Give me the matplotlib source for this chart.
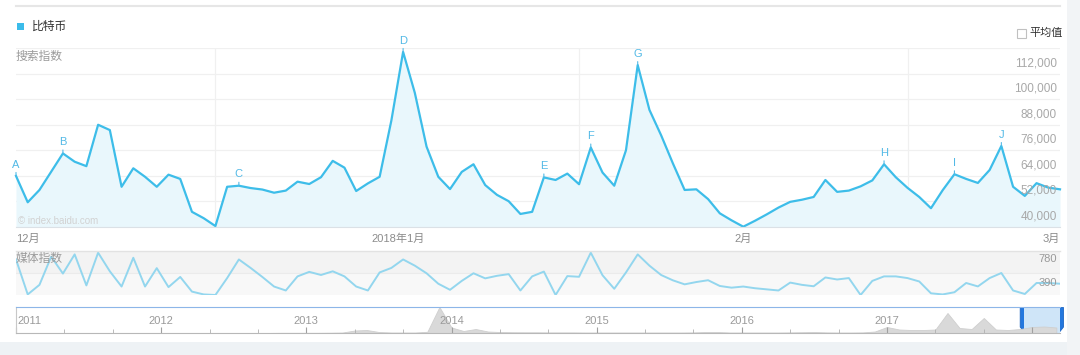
import matplotlib
matplotlib.use("Agg")
import matplotlib.pyplot as plt
from matplotlib.patches import Rectangle, Polygon
from matplotlib.transforms import blended_transform_factory, ScaledTranslation

plt.rcParams["font.family"] = ["Liberation Sans", "Noto Sans CJK SC", "DejaVu Sans"]

# 搜索指数, 2017-12-01 .. 2018-02-28 (daily)
search = [63900, 51500, 57300, 65900, 74500, 70600, 68500, 88000, 85500, 58800,
          67500, 63500, 58800, 64500, 62500, 47000, 44000, 40300, 58800, 59300,
          58200, 57500, 56000, 57000, 61200, 60100, 63300, 71000, 67800, 56800,
          60400, 63500, 90000, 122300, 103000, 77700, 63500, 57700, 65800, 69400,
          59600, 55000, 52000, 46000, 47000, 63200, 62000, 65000, 60000, 77300,
          65500, 59300, 76000, 116100, 95000, 83000, 69800, 57300, 57600, 53000,
          46300, 43000, 40000, 42800, 45800, 49000, 51700, 52700, 54000, 62000,
          56400, 57000, 59000, 61800, 69400, 63300, 58300, 54000, 48700, 57200,
          64700, 62500, 60600, 66700, 78000, 58800, 54500, 60500, 58400, 57600]

# 媒体指数 (daily)
media = [630, 10, 180, 680, 380, 720, 170, 750, 420, 150,
         660, 150, 476, 140, 320, 60, 10, 0, 300, 630,
         480, 320, 150, 80, 330, 410, 355, 420, 330, 150,
         80, 400, 480, 630, 520, 385, 200, 92, 250, 385,
         295, 340, 370, 80, 330, 415, 0, 335, 323, 750,
         350, 110, 400, 720, 520, 354, 260, 189, 230, 262,
         160, 130, 150, 120, 100, 80, 220, 180, 155, 311,
         275, 300, 0, 250, 330, 330, 300, 240, 30, 10,
         49, 213, 152, 300, 390, 80, 18, 213, 213, 200]

event_labels = ["A", "B", "C", "D", "E", "F", "G", "H", "I", "J"]
event_days = [0, 4, 19, 33, 45, 49, 53, 74, 80, 84]

y_ticks = [40000, 52000, 64000, 76000, 88000, 100000, 112000, 124000]
media_ticks = [390, 780]
month_labels = ["12月", "2018年1月", "2月", "3月"]
month_days = [0, 32.6, 62, 89]

# overview 2011-01 .. 2018-02 (monthly, thousands)
history = [1, 1, 1, 1, 1, 1, 1, 1, 1, 1, 1, 1,
           1, 1, 1, 1, 1, 1, 1, 1, 1, 1, 2, 2,
           2, 2, 3, 5, 25, 30, 10, 5, 5, 5, 12, 260,
           55, 20, 40, 15, 10, 8, 7, 7, 6, 6, 6, 5,
           5, 5, 5, 5, 5, 5, 5, 5, 6, 10, 10, 5,
           5, 5, 5, 5, 6, 8, 10, 6, 5, 5, 6, 15,
           60, 35, 30, 30, 35, 200, 50, 40, 150, 35, 30, 40,
           60, 65, 55]
years = ["2011", "2012", "2013", "2014", "2015", "2016", "2017"]

W, H = 1080, 355
LINE = "#3dbde9"
fig = plt.figure(figsize=(W / 100, H / 100), dpi=100)


def px_axes(x0, y0, x1, y1):
    return fig.add_axes([x0 / W, 1 - y1 / H, (x1 - x0) / W, (y1 - y0) / H])


def off(dx, dy):
    return ScaledTranslation(dx / 100, dy / 100, fig.dpi_scale_trans)


# background / decorations in pixel coordinates
bg = fig.add_axes([0, 0, 1, 1])
bg.set_xlim(0, W)
bg.set_ylim(H, 0)
bg.axis("off")
bg.add_patch(Rectangle((0, 342), W, 13, color="#eef2f5", lw=0))
bg.add_patch(Rectangle((1067, 0), 13, H, color="#f2f4f6", lw=0))
bg.plot([16, 1060], [6, 6], color="#e6e6e6", lw=1.5)
bg.add_patch(Rectangle((17, 23), 7, 7, color="#3bbcea", lw=0))
bg.text(32, 27, "比特币", fontsize=8.5, color="#333333", va="center")
bg.add_patch(Rectangle((1017, 28.5), 9, 9, facecolor="white", edgecolor="#c0c0c0", lw=0.8))
bg.text(1029, 33, "平均值", fontsize=8, color="#333333", va="center")

# main chart
ax = px_axes(16, 48.3, 1060, 226.7)
ax.set_facecolor("none")
days = list(range(len(search)))
ax.fill_between(days, search, 0, color="#e9f7fc", lw=0)
ax.plot(days, search, color=LINE, lw=1.6, clip_on=False, solid_joinstyle="round")
ax.set_xlim(0, 89)
ax.set_ylim(40000, 124000)
ax.set_yticks(y_ticks)
ax.grid(axis="y", color="#f0f0f0", lw=0.9)
for d in [17, 48, 76]:
    ax.axvline(d, color="#f0f0f0", lw=0.9, zorder=0)
ax.tick_params(left=False, bottom=False, labelleft=False, labelbottom=False)
for s in ["top", "left", "right"]:
    ax.spines[s].set_visible(False)
ax.spines["bottom"].set_color("#dbe1e6")
ax.set_axisbelow(True)

ytr = blended_transform_factory(ax.transAxes, ax.transData)
for v in y_ticks[:-1]:
    ax.text(1, v, f"{v:,}", transform=ytr + off(-3, 10.5), ha="right", va="center",
            fontsize=8.5, color="#a8a8a8")
ax.text(0, 1, "搜索指数", transform=ax.transAxes + off(0, -9), ha="left", va="center",
        fontsize=8.5, color="#9a9a9a")
ax.text(0, 0, "© index.baidu.com", transform=ax.transAxes + off(2, 6), ha="left", va="center",
        fontsize=7, color="#d2d2d2")

for lab, d in zip(event_labels, event_days):
    ax.annotate(lab, (d, search[d]), xytext=(0, 4.5), textcoords="offset points",
                ha="center", va="bottom", fontsize=8, color="#52b9e6",
                annotation_clip=False,
                arrowprops=dict(arrowstyle="-", color="#52b9e6", lw=0.8, shrinkA=0, shrinkB=0))

xtr = blended_transform_factory(ax.transData, ax.transAxes)
aligns = ["left", "center", "center", "right"]
for lab, d, ha in zip(month_labels, month_days, aligns):
    ax.text(d, 0, lab, transform=xtr + off(0, -12.5), ha=ha, va="center",
            fontsize=8, color="#8c8c8c")

# media index panel
ax2 = px_axes(16, 251, 1060, 295)
ax2.axhspan(390, 780, color="#f3f3f3", lw=0, zorder=0)
ax2.axhspan(0, 390, color="#f8f8f8", lw=0, zorder=0)
ax2.axhline(390, color="#ebebeb", lw=0.8, zorder=1)
ax2.plot(days, media, color="#93d6ee", lw=1.4, zorder=2, solid_joinstyle="round")
ax2.set_xlim(0, 89)
ax2.set_ylim(0, 780)
ax2.axis("off")
ax2.plot([0, 1], [1, 1], transform=ax2.transAxes, color="#e2e2e2", lw=1, clip_on=False)
mtr = blended_transform_factory(ax2.transAxes, ax2.transData)
for v, dy in zip(media_ticks, [-10.5, -8.5]):
    ax2.text(1, v, str(v), transform=mtr + off(-3, dy), ha="right", va="center",
             fontsize=8, color="#999999", zorder=3)
ax2.text(0, 1, "媒体指数", transform=ax2.transAxes + off(0, -8), ha="left", va="center",
         fontsize=8.5, color="#9a9a9a", zorder=3)

# overview timeline
ax3 = px_axes(16, 307, 1060, 333)
months = list(range(len(history)))
sel0, sel1 = 83.3, 86.3
ax3.axvspan(sel0, sel1, color="#cfe5f8", lw=0, zorder=0)
ax3.fill_between(months, history, 0, color="#d9d9d9", lw=0.6, edgecolor="#cfcfcf", zorder=1)
ax3.set_xlim(0, sel1)
ax3.set_ylim(0, 260)
ax3.set_yticks([])
ax3.set_xticks(range(0, 85, 12))
ax3.set_xticks(range(0, 87, 4), minor=True)
ax3.tick_params(axis="x", which="major", direction="in", length=4.5, color="#a0a0a0",
                labelbottom=False)
ax3.tick_params(axis="x", which="minor", direction="in", length=3, color="#b0b0b0")
ax3.set_facecolor("none")
ax3.spines["right"].set_visible(False)
ax3.spines["top"].set_color("#8db6e8")
ax3.spines["left"].set_color("#c8c8c8")
ax3.spines["bottom"].set_color("#b8b8b8")
ttr = blended_transform_factory(ax3.transData, ax3.transAxes)
for i, y in enumerate(years):
    ax3.text(i * 12, 0.47, y, transform=ttr + off(1 if i == 0 else 0, 0),
             ha="left" if i == 0 else "center", va="center",
             fontsize=8, color="#9a9a9a")

# selection handles
for m in (sel0, sel1):
    hx = 16 + m / sel1 * 1044
    bg.add_patch(Polygon([(hx - 3.5, 307.5), (hx + 3.5, 307.5), (hx + 3.5, 327),
                          (hx, 331.5), (hx - 3.5, 327)], closed=True,
                         facecolor="#2477dd", edgecolor="#1d66c4", lw=0.6, zorder=5))

bg.set_zorder(-1)
fig.savefig("out.png", dpi=100)
